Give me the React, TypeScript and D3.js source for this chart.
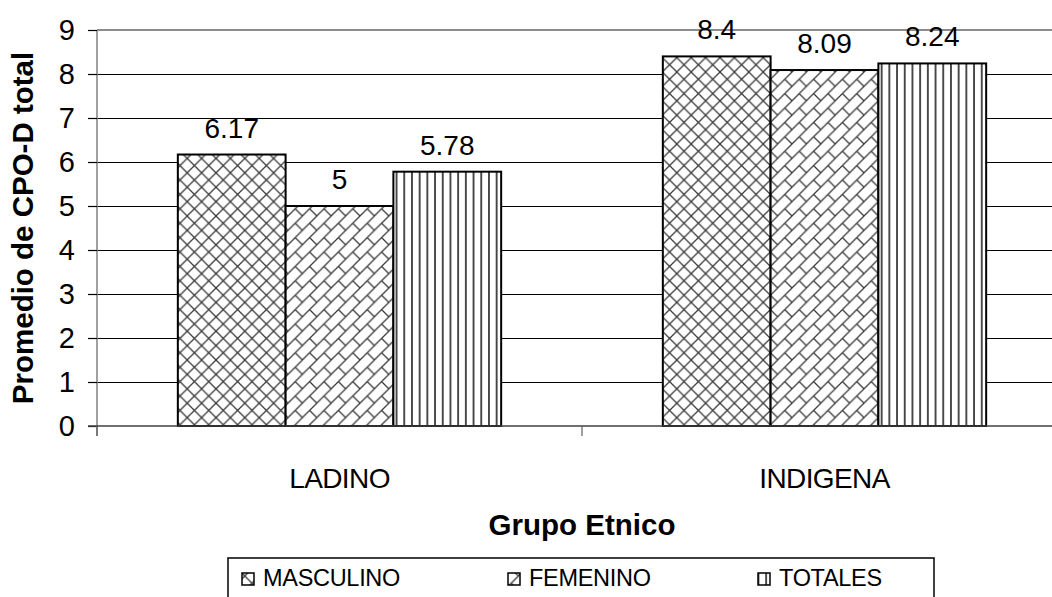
import React, { useRef, useEffect } from "react";
import * as d3 from "d3";

const categories = ["LADINO", "INDIGENA"];
const seriesNames = ["MASCULINO", "FEMENINO", "TOTALES"];
const masculino = [6.17, 8.4];
const femenino = [5, 8.09];
const totales = [5.78, 8.24];
const yTicks = [0, 1, 2, 3, 4, 5, 6, 7, 8, 9];

const seriesValues = [masculino, femenino, totales];
const patternIds = ["pat-cross", "pat-brick", "pat-vert"];

const App: React.FC = () => {
  const svgRef = useRef<SVGSVGElement | null>(null);

  useEffect(() => {
    const width = 1052;
    const height = 597;
    const plot = { left: 97, right: 1067, top: 30, bottom: 426 };
    const font = "Arial, 'Liberation Sans', sans-serif";

    const svg = d3.select(svgRef.current);
    svg.selectAll("*").remove();
    svg.attr("width", width).attr("height", height);

    // patterns
    const defs = svg.append("defs");
    const s = 14.4;
    const pc = defs.append("pattern").attr("id", "pat-cross")
      .attr("patternUnits", "userSpaceOnUse").attr("width", s).attr("height", s);
    pc.append("rect").attr("width", s).attr("height", s).attr("fill", "#fff");
    pc.append("path").attr("d", `M0,0L${s},${s}M${s},0L0,${s}M-1,1L1,-1M${s - 1},${s + 1}L${s + 1},${s - 1}`)
      .attr("stroke", "#3a3a3a").attr("stroke-width", 1.3);

    const pb = defs.append("pattern").attr("id", "pat-brick")
      .attr("patternUnits", "userSpaceOnUse").attr("width", s).attr("height", s);
    pb.append("rect").attr("width", s).attr("height", s).attr("fill", "#fff");
    pb.append("path").attr("d", `M0,${s}L${s},0M-1,1L1,-1M${s - 1},${s + 1}L${s + 1},${s - 1}M${s / 2},${s / 2}L${s},${s}`)
      .attr("stroke", "#3a3a3a").attr("stroke-width", 1.3);

    const vw = 7.7;
    const pv = defs.append("pattern").attr("id", "pat-vert")
      .attr("patternUnits", "userSpaceOnUse").attr("width", vw).attr("height", 10);
    pv.append("rect").attr("width", vw).attr("height", 10).attr("fill", "#fff");
    pv.append("line").attr("x1", vw / 2).attr("x2", vw / 2).attr("y1", 0).attr("y2", 10)
      .attr("stroke", "#222").attr("stroke-width", 1.6);

    const x = d3.scaleBand().domain(categories).range([plot.left, plot.right]).padding(0);
    const xs = d3.scaleBand().domain(seriesNames).range([0, x.bandwidth()])
      .paddingInner(0).paddingOuter(0.75);
    const y = d3.scaleLinear().domain([0, 9]).range([plot.bottom, plot.top]);

    // gridlines
    svg.append("g").selectAll("line")
      .data(yTicks.filter((t) => t > 0 && t < 9))
      .join("line")
      .attr("x1", plot.left).attr("x2", plot.right)
      .attr("y1", (d) => y(d) + 0.5).attr("y2", (d) => y(d) + 0.5)
      .attr("stroke", "#000").attr("stroke-width", 1.2);

    // plot border top
    svg.append("line")
      .attr("x1", plot.left).attr("x2", plot.right)
      .attr("y1", y(9)).attr("y2", y(9))
      .attr("stroke", "#8c8c8c").attr("stroke-width", 2);

    // bars
    seriesNames.forEach((name, si) => {
      svg.append("g").selectAll("rect")
        .data(categories.map((c, i) => ({ c, v: seriesValues[si][i] })))
        .join("rect")
        .attr("x", (d) => (x(d.c) as number) + (xs(name) as number))
        .attr("y", (d) => y(d.v))
        .attr("width", xs.bandwidth())
        .attr("height", (d) => y(0) - y(d.v))
        .attr("fill", `url(#${patternIds[si]})`)
        .attr("stroke", "#000")
        .attr("stroke-width", 2);

      svg.append("g").selectAll("text")
        .data(categories.map((c, i) => ({ c, v: seriesValues[si][i] })))
        .join("text")
        .attr("x", (d) => (x(d.c) as number) + (xs(name) as number) + xs.bandwidth() / 2)
        .attr("y", (d) => y(d.v) - 17)
        .attr("text-anchor", "middle")
        .attr("font-family", font)
        .attr("font-size", 28)
        .text((d) => String(d.v));
    });

    // y axis
    const yAxis = svg.append("g");
    yAxis.append("line")
      .attr("x1", plot.left).attr("x2", plot.left)
      .attr("y1", plot.top).attr("y2", plot.bottom + 10)
      .attr("stroke", "#808080").attr("stroke-width", 1.5);
    yAxis.selectAll("line.tick")
      .data(yTicks)
      .join("line")
      .attr("class", "tick")
      .attr("x1", plot.left - 9).attr("x2", plot.left)
      .attr("y1", (d) => y(d) + 0.5).attr("y2", (d) => y(d) + 0.5)
      .attr("stroke", "#000").attr("stroke-width", 1.2);
    yAxis.selectAll("text")
      .data(yTicks)
      .join("text")
      .attr("x", 75)
      .attr("y", (d) => y(d))
      .attr("dy", "0.36em")
      .attr("text-anchor", "end")
      .attr("font-family", font)
      .attr("font-size", 29)
      .text((d) => String(d));

    // x axis
    const xAxis = svg.append("g");
    xAxis.append("line")
      .attr("x1", plot.left - 9).attr("x2", plot.right)
      .attr("y1", plot.bottom).attr("y2", plot.bottom)
      .attr("stroke", "#404040").attr("stroke-width", 1.5);
    const bounds = [plot.left, ...categories.map((c) => (x(c) as number) + x.bandwidth())];
    xAxis.selectAll("line.tick")
      .data(bounds)
      .join("line")
      .attr("class", "tick")
      .attr("x1", (d) => d).attr("x2", (d) => d)
      .attr("y1", plot.bottom).attr("y2", plot.bottom + 10)
      .attr("stroke", "#606060").attr("stroke-width", 1.2);
    xAxis.selectAll("text")
      .data(categories)
      .join("text")
      .attr("x", (d) => (x(d) as number) + x.bandwidth() / 2)
      .attr("y", 488)
      .attr("text-anchor", "middle")
      .attr("font-family", font)
      .attr("font-size", 28)
      .attr("letter-spacing", -0.6)
      .text((d) => d);

    // axis titles
    svg.append("text")
      .attr("x", (plot.left + plot.right) / 2)
      .attr("y", 535)
      .attr("text-anchor", "middle")
      .attr("font-family", font)
      .attr("font-weight", "bold")
      .attr("font-size", 29.5)
      .text("Grupo Etnico");

    svg.append("text")
      .attr("transform", `translate(33, ${(plot.top + plot.bottom) / 2}) rotate(-90)`)
      .attr("text-anchor", "middle")
      .attr("font-family", font)
      .attr("font-weight", "bold")
      .attr("font-size", 29.5)
      .text("Promedio de CPO-D total");

    // legend
    const legend = svg.append("g");
    legend.append("rect")
      .attr("x", 228).attr("y", 558)
      .attr("width", 934 - 228).attr("height", 60)
      .attr("fill", "#fff").attr("stroke", "#000").attr("stroke-width", 1.5);
    const legendX = [242, 508, 758];
    seriesNames.forEach((name, i) => {
      legend.append("rect")
        .attr("x", legendX[i]).attr("y", 573)
        .attr("width", 12).attr("height", 12)
        .attr("fill", `url(#${patternIds[i]})`)
        .attr("stroke", "#000").attr("stroke-width", 1.5);
      legend.append("text")
        .attr("x", legendX[i] + 21).attr("y", 586)
        .attr("font-family", font)
        .attr("font-size", 23.5)
        .attr("letter-spacing", -0.3)
        .text(name);
    });
  }, []);

  return (
    <div style={{ position: "absolute", left: 0, top: 0, background: "#fff" }}>
      <svg ref={svgRef} style={{ display: "block" }} />
    </div>
  );
};

export default App;
